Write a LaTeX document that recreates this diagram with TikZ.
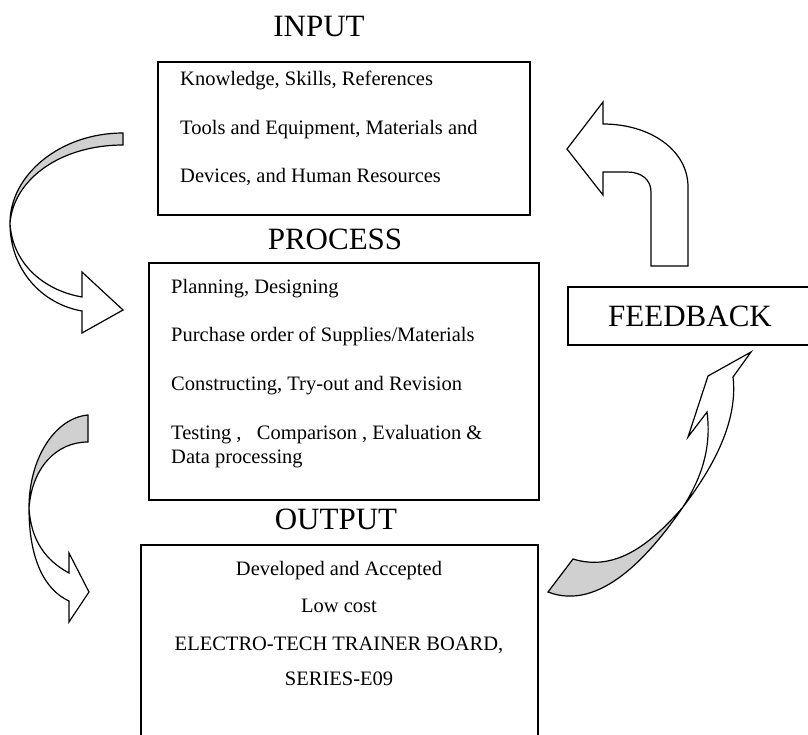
\documentclass[tikz,border=0pt]{standalone}
\usepackage{fontspec}
\setmainfont{Liberation Serif}
\usepackage{tikz}
\definecolor{bandgray}{RGB}{208,208,208}

\begin{document}
\begin{tikzpicture}[x=1pt, y=-1pt,
  box/.style={draw, line width=1.5pt, rectangle, inner sep=0pt},
  head/.style={font=\fontsize{31}{31}\selectfont, inner sep=0pt, anchor=base},
  txt/.style={font=\fontsize{20.5}{24}\selectfont, inner sep=0pt, anchor=base west},
  ctxt/.style={font=\fontsize{20.5}{24}\selectfont, inner sep=0pt, anchor=base},
  bent/.style={draw, line width=1.2pt, fill=white},
  back/.style={draw, line width=1.2pt, fill=bandgray}]
  \useasboundingbox (0,0) rectangle (808,734);

  % boxes
  \node[box, minimum width=372pt, minimum height=153pt] (inbox) at (344,138.5) {};
  \node[box, minimum width=390pt, minimum height=237pt] (procbox) at (344,381.5) {};
  \node[box, minimum width=397pt, minimum height=195pt] (outbox) at (339.5,642.5) {};
  \node[box, minimum width=244pt, minimum height=58pt,
        font=\fontsize{31}{31}\selectfont] (fb) at (690,316) {FEEDBACK};

  % titles
  \node[head] (inlabel) at (319,36) {INPUT};
  \node[head] (proclabel) at (335,249) {PROCESS};
  \node[head] (outlabel) at (336,529) {OUTPUT};

  % input
  \node[txt] (in1) at (180,85) {Knowledge, Skills, References};
  \node[txt] (in2) at (180,134) {Tools and Equipment, Materials and};
  \node[txt] (in3) at (180,182) {Devices, and Human Resources};

  % process
  \node[txt] (pr1) at (171,293) {Planning, Designing};
  \node[txt] (pr2) at (171,341) {Purchase order of Supplies/Materials};
  \node[txt] (pr3) at (171,390) {Constructing, Try-out and Revision};
  \node[txt] (pr4) at (171,439) {Testing ,\ \ \ Comparison , Evaluation \&};
  \node[txt] (pr5) at (171,463) {Data processing};

  % output
  \node[ctxt] (out1) at (339,575) {Developed and Accepted};
  \node[ctxt] (out2) at (339,612) {Low cost};
  \node[ctxt] (out3) at (339,650) {ELECTRO-TECH TRAINER BOARD,};
  \node[ctxt] (out4) at (339,685) {SERIES-E09};

  % input -> process
  \draw[back] (123,133) .. controls (60,133) and (10,175) .. (10,223)
    .. controls (14,178) and (62,145) .. (123,145) -- cycle;
  \draw[bent] (10,223) .. controls (10,270) and (42,304) .. (82,311) -- (82,333)
    -- (123,310) -- (82,272) -- (82,297) .. controls (42,290) and (12,262) .. (10,223) -- cycle;

  % process -> output
  \draw[back] (88,415) .. controls (55,418) and (29,458) .. (29,508)
    .. controls (32,468) and (56,442) .. (88,442) -- cycle;
  \draw[bent] (29,508) .. controls (29,560) and (45,590) .. (69,601) -- (69,622)
    -- (89,592) -- (69,553) -- (69,573) .. controls (45,560) and (31,540) .. (29,508) -- cycle;

  % output -> feedback
  \draw[back] (548,592) .. controls (600,612) and (650,555) .. (683,507)
    .. controls (650,545) and (615,572) .. (573,559) -- cycle;
  \draw[bent] (683,507) .. controls (715,465) and (738,420) .. (733,377) -- (751,352)
    -- (708,376) -- (688,437) -- (707,412) .. controls (712,450) and (700,480) .. (683,507) -- cycle;

  % feedback -> input
  \draw[bent] (651,266) -- (688,266) -- (688,187) .. controls (688,150) and (650,124) .. (603,124)
    -- (603,102) -- (567,149) -- (603,195) -- (603,172) -- (627,172)
    .. controls (642,172) and (651,180) .. (651,192) -- cycle;
\end{tikzpicture}
\end{document}
